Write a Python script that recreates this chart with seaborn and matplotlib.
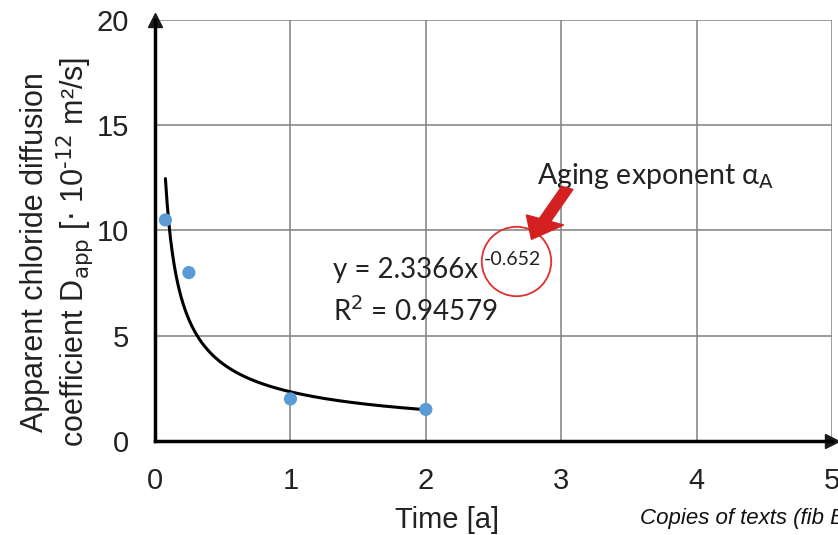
import numpy as np
import pandas as pd
import matplotlib.pyplot as plt
from matplotlib.patches import FancyArrow
import seaborn as sns

# measured data (time in years, D_app in 1e-12 m2/s)
time_a = [0.0767, 0.25, 1.0, 2.0]
d_app = [10.5, 8.0, 2.0, 1.5]

# power fit printed on the chart
fit_coef = 2.3366
fit_exp = -0.652
fit_r2 = 0.94579
fit_range = [0.0767, 2.0]

df = pd.DataFrame({'time': time_a, 'dapp': d_app})
fit_x = np.linspace(fit_range[0], fit_range[1], 300)
fit_df = pd.DataFrame({'time': fit_x, 'dapp': fit_coef * fit_x ** fit_exp})

sns.set_theme(style='white')
plt.rcParams['font.family'] = ['Liberation Sans', 'DejaVu Sans']

fig = plt.figure(figsize=(8.38, 5.35), dpi=100)
ax = fig.add_axes([0.185, 0.1757, 0.808, 0.787])

sns.lineplot(data=fit_df, x='time', y='dapp', color='black', linewidth=2.2, ax=ax)
sns.scatterplot(data=df, x='time', y='dapp', color='#5b9bd5', s=90, edgecolor='none', ax=ax, zorder=5)

ax.set_xlim(0, 5)
ax.set_ylim(0, 20)
ax.set_xticks(range(0, 6))
ax.set_yticks(range(0, 21, 5))
ax.grid(True, color='#808080', linewidth=1.1)
ax.tick_params(axis='both', labelsize=21, direction='inout', length=9, width=2.5,
               colors='black', labelcolor='#222222', pad=14)

for s in ['top', 'right']:
    ax.spines[s].set_visible(False)
for s in ['left', 'bottom']:
    ax.spines[s].set_linewidth(2.5)
    ax.spines[s].set_color('black')

# axis arrows
ax.plot(1, 0, '>k', markersize=10, transform=ax.get_yaxis_transform(), clip_on=False)
ax.plot(0, 1, '^k', markersize=10, transform=ax.get_xaxis_transform(), clip_on=False)

ax.set_xlabel('Time [a]', fontsize=21, color='#222222')
ax.xaxis.set_label_coords(0.432, -0.155)
ax.set_ylabel('Apparent chloride diffusion\ncoefficient D$_{\\mathrm{app}}$ [$\\cdot$ 10$^{\\text{-12}}$ m²/s]',
              fontsize=22, color='#222222', linespacing=1.15)
ax.yaxis.set_label_coords(-0.087, 0.449)

# fit equation
ann_font = ['Lato', 'DejaVu Sans']
ax.text(1.315, 8.1, 'y = 2.3366x', fontsize=20, family=ann_font, color='#222222', va='center')
ax.text(2.43, 8.6, '%.3f' % fit_exp, fontsize=14, family=ann_font, color='#222222', va='center')
ax.text(1.315, 6.15, 'R$^2$ = %.5f' % fit_r2, fontsize=20, family=ann_font, color='#222222', va='center')

# red circle around the exponent
ax.plot(2.665, 8.55, 'o', ms=50, mfc='none', mec='#e03030', mew=1.3, zorder=6, clip_on=False)
ax.add_patch(FancyArrow(0.609, 0.601, -0.053, -0.122, width=0.018, head_width=0.06,
                        head_length=0.05, transform=ax.transAxes, color='#d42020',
                        length_includes_head=True, zorder=7))
ax.text(2.82, 12.6, 'Aging exponent α$_{\\mathrm{A}}$', fontsize=20.5, family=ann_font,
        color='#222222', va='center')

fig.text(0.764, 0.02, 'Copies of texts (fib B', fontsize=16, style='italic', color='#111111')

plt.savefig('out.png', dpi=100)
